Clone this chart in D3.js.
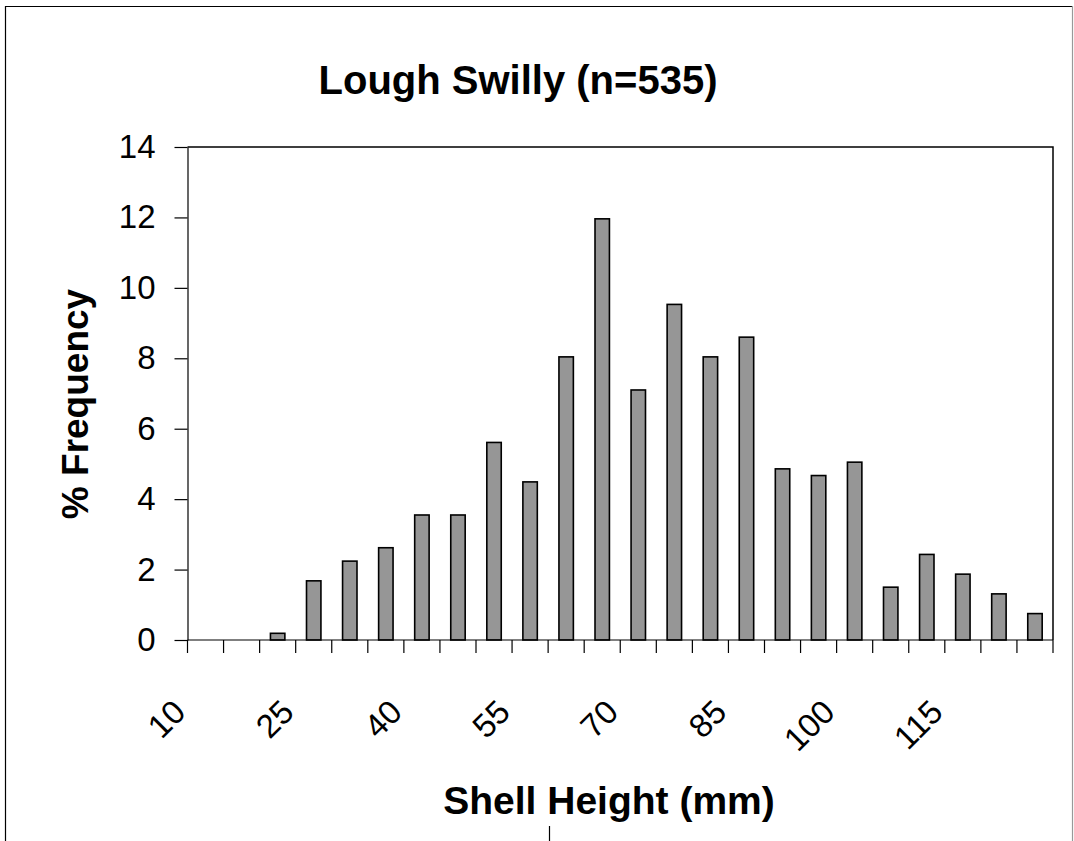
<!DOCTYPE html>
<html>
<head>
<meta charset="utf-8">
<script src="https://cdn.jsdelivr.net/npm/d3@7"></script>
<style>
  body { margin: 0; background: #fff; }
  svg { display: block; font-family: "Liberation Sans", Arial, sans-serif; }
  .axis path, .axis line { stroke: #000; stroke-width: 1.2px; }
  .axis text { fill: #000; }
</style>
</head>
<body>
<div id="chart"></div>
<script>
// Shell height classes (mm) and % frequency
const sizeClasses = [10, 15, 20, 25, 30, 35, 40, 45, 50, 55, 60, 65,
                     70, 75, 80, 85, 90, 95, 100, 105, 110, 115, 120, 125];
const frequency = [0, 0, 0.19, 1.68, 2.24, 2.62, 3.55, 3.55, 5.61, 4.49, 8.04, 11.96,
                   7.10, 9.53, 8.04, 8.60, 4.86, 4.67, 5.05, 1.50, 2.43, 1.87, 1.31, 0.75];
const yTicks = [0, 2, 4, 6, 8, 10, 12, 14];
const xLabels = [10, 25, 40, 55, 70, 85, 100, 115];

const W = 1074, H = 841;
const plot = { left: 187.5, right: 1053, top: 147, bottom: 640 };

const svg = d3.select("#chart").append("svg")
  .attr("width", W)
  .attr("height", H);

// Outer chart frame
svg.append("line").attr("x1", 5.5).attr("x2", 5.5).attr("y1", 6).attr("y2", H)
  .attr("stroke", "#000").attr("stroke-width", 1.2);
svg.append("line").attr("x1", 5).attr("x2", 1073).attr("y1", 6.5).attr("y2", 6.5)
  .attr("stroke", "#000").attr("stroke-width", 1.2);
svg.append("line").attr("x1", 1072.5).attr("x2", 1072.5).attr("y1", 6).attr("y2", H)
  .attr("stroke", "#999").attr("stroke-width", 1.2);

// Scales
const x = d3.scaleBand()
  .domain(sizeClasses)
  .range([plot.left, plot.right])
  .paddingInner(0.6)
  .paddingOuter(0.3);

const y = d3.scaleLinear()
  .domain([0, 14])
  .range([plot.bottom, plot.top]);

// Plot frame (top and right)
svg.append("path")
  .attr("d", `M${plot.left},${plot.top}H${plot.right}V${plot.bottom}`)
  .attr("fill", "none")
  .attr("stroke", "#000")
  .attr("stroke-width", 1.5);

// Bars
svg.append("g")
  .selectAll("rect")
  .data(sizeClasses.map((c, i) => ({ c, v: frequency[i] })).filter(d => d.v > 0))
  .join("rect")
  .attr("x", d => x(d.c))
  .attr("y", d => y(d.v))
  .attr("width", x.bandwidth())
  .attr("height", d => y(0) - y(d.v))
  .attr("fill", "#969696")
  .attr("stroke", "#000")
  .attr("stroke-width", 1.6);

// Y axis
const yAxis = svg.append("g")
  .attr("class", "axis")
  .attr("transform", `translate(${plot.left},0)`)
  .call(d3.axisLeft(y).tickValues(yTicks).tickSize(13).tickPadding(19).tickSizeOuter(0));
yAxis.selectAll("text").attr("font-size", 33);

// X axis line and boundary ticks
const step = x.step();
const boundaries = d3.range(sizeClasses.length + 1).map(i => plot.left + i * step);
const xAxis = svg.append("g").attr("class", "axis");
xAxis.append("line")
  .attr("x1", plot.left).attr("x2", plot.right)
  .attr("y1", plot.bottom).attr("y2", plot.bottom);
xAxis.selectAll("line.tick")
  .data(boundaries)
  .join("line")
  .attr("class", "tick")
  .attr("x1", d => d).attr("x2", d => d)
  .attr("y1", plot.bottom).attr("y2", plot.bottom + 13);

// Rotated category labels
xAxis.selectAll("text")
  .data(xLabels)
  .join("text")
  .attr("transform", d => `translate(${x(d) + x.bandwidth() / 2 - 18},${plot.bottom + 74}) rotate(-45)`)
  .attr("text-anchor", "end")
  .attr("font-size", 33)
  .text(d => d);

// Titles
svg.append("text")
  .attr("x", 518)
  .attr("y", 80)
  .attr("dy", "0.35em")
  .attr("text-anchor", "middle")
  .attr("font-size", 40)
  .attr("font-weight", "bold")
  .text("Lough Swilly (n=535)");

svg.append("text")
  .attr("transform", "translate(75,404) rotate(-90)")
  .attr("dy", "0.35em")
  .attr("text-anchor", "middle")
  .attr("font-size", 37)
  .attr("font-weight", "bold")
  .text("% Frequency");

svg.append("text")
  .attr("x", 609)
  .attr("y", 800)
  .attr("dy", "0.35em")
  .attr("text-anchor", "middle")
  .attr("font-size", 39)
  .attr("font-weight", "bold")
  .text("Shell Height (mm)");

// Small stray mark at the bottom edge of the frame
svg.append("line").attr("x1", 549.5).attr("x2", 549.5).attr("y1", 826).attr("y2", H)
  .attr("stroke", "#000").attr("stroke-width", 1.2);
</script>
</body>
</html>
